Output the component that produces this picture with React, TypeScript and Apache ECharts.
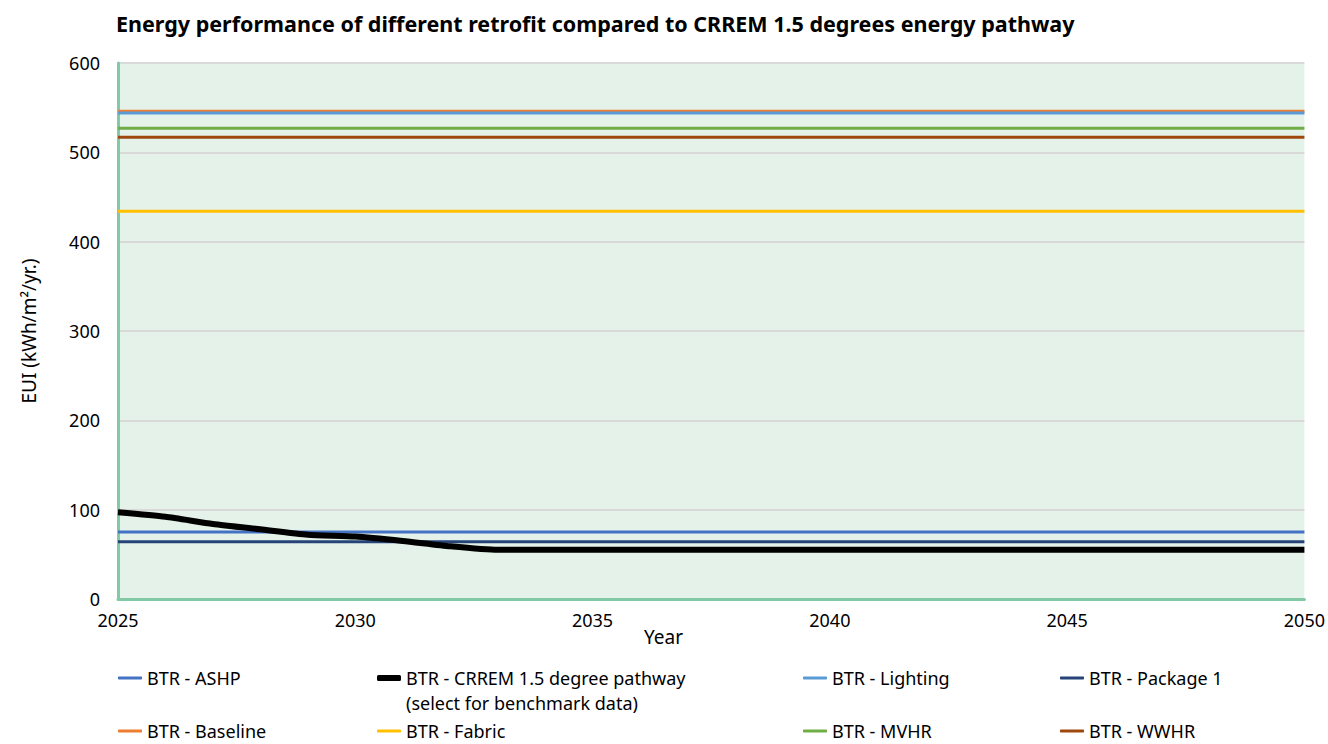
import React, { useEffect, useRef } from "react";
import * as echarts from "echarts";

const years = [2025, 2026, 2027, 2028, 2029, 2030, 2031, 2032, 2033, 2034, 2035, 2036, 2037, 2038, 2039, 2040, 2041, 2042, 2043, 2044, 2045, 2046, 2047, 2048, 2049, 2050];
const crrem = [97, 92, 84, 78, 72, 70, 65, 59, 55, 55, 55, 55, 55, 55, 55, 55, 55, 55, 55, 55, 55, 55, 55, 55, 55, 55];
const flatYears = [2025, 2050];
const ashp = [75, 75];
const baseline = [546, 546];
const lighting = [544, 544];
const package1 = [64, 64];
const fabric = [434, 434];
const mvhr = [527, 527];
const wwhr = [517, 517];

const names = {
  ashp: "BTR - ASHP",
  crrem: "BTR - CRREM 1.5 degree pathway",
  lighting: "BTR - Lighting",
  package1: "BTR - Package 1",
  baseline: "BTR - Baseline",
  fabric: "BTR - Fabric",
  mvhr: "BTR - MVHR",
  wwhr: "BTR - WWHR",
};
const crremNote = "(select for benchmark data)";
const colors = {
  ashp: "#4472C4",
  crrem: "#000000",
  lighting: "#5B9BD5",
  package1: "#264478",
  baseline: "#ED7D31",
  fabric: "#FFC000",
  mvhr: "#70AD47",
  wwhr: "#9E480E",
};

const FONT = "Noto Sans";

export default function App() {
  const ref = useRef<HTMLDivElement>(null);
  useEffect(() => {
    const chart = echarts.init(ref.current!, null, { renderer: "svg" });
    const flat = (key: string, vals: number[]) => ({
      name: (names as any)[key],
      type: "line",
      data: flatYears.map((y, i) => [y, vals[i]]),
      showSymbol: false,
      lineStyle: { width: 3, color: (colors as any)[key] },
      itemStyle: { color: (colors as any)[key] },
      z: 2,
    });
    const legendAt = (key: string, left: number, top: number, thick = false) => ({
      data: [(names as any)[key]],
      left,
      top,
      padding: 0,
      icon: "roundRect",
      itemWidth: 24,
      itemHeight: thick ? 6 : 3,
      itemGap: 10,
      textStyle: { fontFamily: FONT, fontSize: 18, color: "#000", lineHeight: 18 },
      selectedMode: false,
    });
    chart.setOption({
      animation: false,
      title: {
        text: "Energy performance of different retrofit compared to CRREM 1.5 degrees energy pathway",
        left: 111,
        top: 7,
        textStyle: { fontFamily: FONT, fontSize: 21.5, fontWeight: "bold", color: "#000" },
      },
      grid: {
        left: 118,
        right: 20,
        top: 63,
        bottom: 145,
        show: true,
        backgroundColor: "#E5F2EA",
        borderWidth: 0,
      },
      legend: [
        legendAt("ashp", 118, 669),
        legendAt("baseline", 118, 722),
        legendAt("crrem", 377, 669, true),
        legendAt("fabric", 377, 722),
        legendAt("lighting", 803, 669),
        legendAt("mvhr", 803, 722),
        legendAt("package1", 1060, 669),
        legendAt("wwhr", 1060, 722),
      ],
      graphic: [
        {
          type: "text",
          left: 406,
          top: 694,
          style: { text: crremNote, fontFamily: FONT, fontSize: 18, lineHeight: 18, fill: "#000" },
        },
        {
          type: "text",
          left: 644,
          top: 627,
          style: { text: "Year", fontFamily: FONT, fontSize: 19, fill: "#000" },
        },
      ],
      xAxis: {
        type: "value",
        min: 2025,
        max: 2050,
        interval: 5,
        axisLine: { show: true, lineStyle: { color: "#82C9A6", width: 3 } },
        axisTick: { show: false },
        splitLine: { show: false },
        axisLabel: { fontFamily: FONT, fontSize: 18, color: "#000", margin: 12, formatter: (v: number) => String(v) },
      },
      yAxis: {
        type: "value",
        min: 0,
        max: 600,
        interval: 100,
        name: "EUI (kWh/m²/yr.)",
        nameLocation: "middle",
        nameGap: 80,
        nameTextStyle: { fontFamily: FONT, fontSize: 19, color: "#000" },
        axisLine: { show: true, lineStyle: { color: "#82C9A6", width: 3 } },
        axisTick: { show: false },
        splitLine: { show: true, lineStyle: { color: "#D9D9D9", width: 2 } },
        axisLabel: { fontFamily: FONT, fontSize: 18, color: "#000", margin: 18 },
      },
      series: [
        flat("ashp", ashp),
        flat("baseline", baseline),
        flat("lighting", lighting),
        flat("package1", package1),
        flat("fabric", fabric),
        flat("mvhr", mvhr),
        flat("wwhr", wwhr),
        {
          name: names.crrem,
          type: "line",
          data: years.map((y, i) => [y, crrem[i]]),
          showSymbol: false,
          smooth: 0.2,
          lineStyle: { width: 6, color: colors.crrem },
          itemStyle: { color: colors.crrem },
          z: 3,
        },
      ],
    });
    return () => chart.dispose();
  }, []);
  return <div ref={ref} style={{ width: 1328, height: 744, position: "absolute", left: 0, top: 0 }} />;
}
